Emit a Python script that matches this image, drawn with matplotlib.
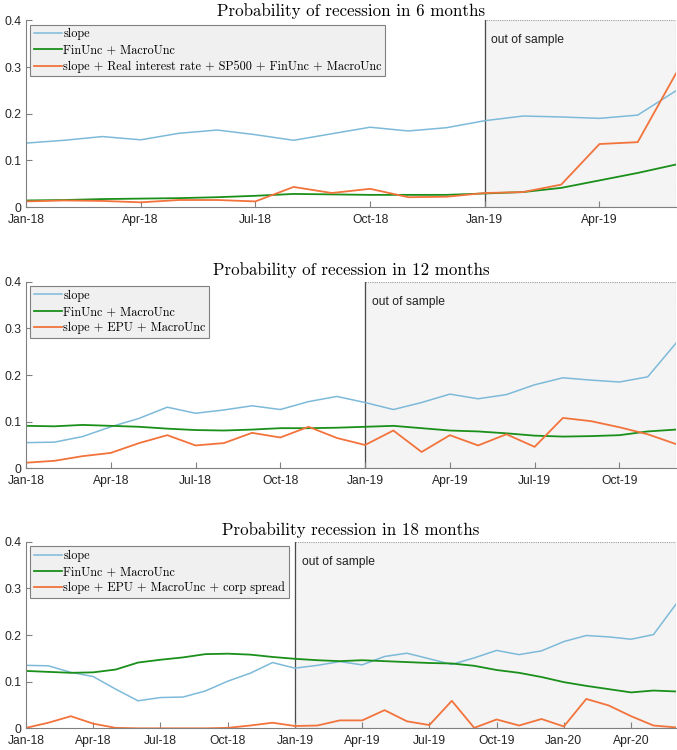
import matplotlib
matplotlib.use("Agg")
import matplotlib.pyplot as plt
from matplotlib.patches import Rectangle

# panel 1: Jan-18 .. Jun-19
slope_6 = [0.137, 0.143, 0.151, 0.144, 0.158, 0.165, 0.155, 0.143, 0.157, 0.171,
           0.163, 0.170, 0.185, 0.195, 0.193, 0.190, 0.197, 0.249]
fin_6 = [0.014, 0.015, 0.017, 0.018, 0.019, 0.021, 0.024, 0.028, 0.027, 0.026,
         0.026, 0.026, 0.029, 0.032, 0.041, 0.057, 0.073, 0.091]
full_6 = [0.012, 0.014, 0.013, 0.010, 0.015, 0.015, 0.012, 0.043, 0.030, 0.039,
          0.021, 0.022, 0.030, 0.032, 0.048, 0.135, 0.139, 0.286]

# panel 2: Jan-18 .. Dec-19
slope_12 = [0.055, 0.056, 0.068, 0.089, 0.107, 0.131, 0.118, 0.125, 0.134, 0.126,
            0.143, 0.154, 0.141, 0.126, 0.141, 0.159, 0.149, 0.158, 0.179, 0.194,
            0.189, 0.185, 0.196, 0.268]
fin_12 = [0.091, 0.090, 0.093, 0.091, 0.089, 0.085, 0.082, 0.081, 0.083, 0.086,
          0.086, 0.087, 0.089, 0.091, 0.086, 0.081, 0.079, 0.075, 0.070, 0.068,
          0.069, 0.071, 0.079, 0.083]
full_12 = [0.012, 0.016, 0.026, 0.033, 0.054, 0.071, 0.049, 0.054, 0.076, 0.066,
           0.089, 0.065, 0.050, 0.081, 0.035, 0.071, 0.049, 0.073, 0.046, 0.108,
           0.101, 0.088, 0.073, 0.052]

# panel 3: Jan-18 .. Jun-20
slope_18 = [0.135, 0.134, 0.120, 0.111, 0.084, 0.059, 0.066, 0.067, 0.080, 0.101,
            0.118, 0.141, 0.129, 0.135, 0.143, 0.136, 0.154, 0.161, 0.149, 0.137,
            0.151, 0.167, 0.158, 0.166, 0.186, 0.199, 0.196, 0.191, 0.201, 0.266]
fin_18 = [0.123, 0.121, 0.119, 0.120, 0.126, 0.141, 0.147, 0.152, 0.159, 0.160,
          0.158, 0.153, 0.149, 0.146, 0.144, 0.146, 0.144, 0.142, 0.140, 0.139,
          0.134, 0.125, 0.119, 0.110, 0.099, 0.091, 0.084, 0.077, 0.081, 0.079]
full_18 = [0.001, 0.012, 0.026, 0.010, 0.001, 0.0, 0.0, 0.0, 0.0, 0.001,
           0.006, 0.012, 0.005, 0.006, 0.017, 0.017, 0.039, 0.015, 0.007, 0.059,
           0.001, 0.019, 0.006, 0.020, 0.004, 0.063, 0.049, 0.026, 0.006, 0.002]

months = ['Jan', 'Feb', 'Mar', 'Apr', 'May', 'Jun',
          'Jul', 'Aug', 'Sep', 'Oct', 'Nov', 'Dec']

panels = [
    ("Probability of recession in 6 months", slope_6, fin_6, full_6,
     "slope + Real interest rate + SP500 + FinUnc + MacroUnc"),
    ("Probability of recession in 12 months", slope_12, fin_12, full_12,
     "slope + EPU + MacroUnc"),
    ("Probability recession in 18 months", slope_18, fin_18, full_18,
     "slope + EPU + MacroUnc + corp spread"),
]
oos_start = 12  # Jan-19

c_blue = '#7dbad9'
c_green = '#1a8f1a'
c_orange = '#f2733c'
serif = 'cmr10'
sans = 'Liberation Sans'

fig = plt.figure(figsize=(6.77, 7.5), dpi=100)
bottoms = [0.724, 0.3756, 0.0289]
title_pads = [3, 5, 5]

for (title, s, f, o, lab3), b, tp in zip(panels, bottoms, title_pads):
    ax = fig.add_axes([0.0384, b, 0.960, 0.2488])
    n = len(s)
    x = list(range(n))
    ax.add_patch(Rectangle((oos_start, 0), n - 1 - oos_start, 0.4,
                           facecolor='#f4f4f4', edgecolor='#9a9a9a',
                           linestyle=(0, (1, 1)), linewidth=0.8, zorder=0))
    ax.axvline(oos_start, color='#4a4a4a', linewidth=0.9, zorder=1)
    ax.plot(x, s, color=c_blue, lw=1.1, label='slope')
    ax.plot(x, f, color=c_green, lw=1.3, label='FinUnc + MacroUnc')
    ax.plot(x, o, color=c_orange, lw=1.3, label=lab3)
    ax.text(oos_start + 6.6 / (650 / (n - 1)), 0.357, 'out of sample',
            fontsize=8.7, family=sans, color='#222222', va='center')

    ax.set_xlim(0, n - 1)
    ax.set_ylim(0, 0.4)
    ticks = list(range(0, n, 3))
    ax.set_xticks(ticks)
    ax.set_xticklabels(['%s-%02d' % (months[t % 12], 18 + t // 12) for t in ticks])
    ax.set_yticks([0, 0.1, 0.2, 0.3, 0.4])
    ax.set_yticklabels(['0', '0.1', '0.2', '0.3', '0.4'])
    for lbl in ax.get_xticklabels() + ax.get_yticklabels():
        lbl.set_family(sans)
        lbl.set_fontsize(8.7)
        lbl.set_color('#262626')
    ax.tick_params(direction='in', length=4, color='#808080')
    ax.tick_params(axis='x', pad=5)
    ax.tick_params(axis='y', pad=3)
    ax.spines['top'].set_visible(False)
    ax.spines['right'].set_visible(False)
    ax.spines['left'].set_color('#808080')
    ax.spines['bottom'].set_color('#808080')
    ax.set_title(title, family=serif, fontsize=12.2, pad=tp)

    leg = ax.legend(loc='upper left', prop={'family': serif, 'size': 8.8},
                    fancybox=False, framealpha=1, handlelength=2.3,
                    handletextpad=0.1, labelspacing=0.32, borderpad=0.3,
                    borderaxespad=0.35)
    leg.get_frame().set_facecolor('#f0f0f0')
    leg.get_frame().set_edgecolor('#808080')
    leg.get_frame().set_linewidth(0.8)

fig.savefig('out.png', dpi=100)
